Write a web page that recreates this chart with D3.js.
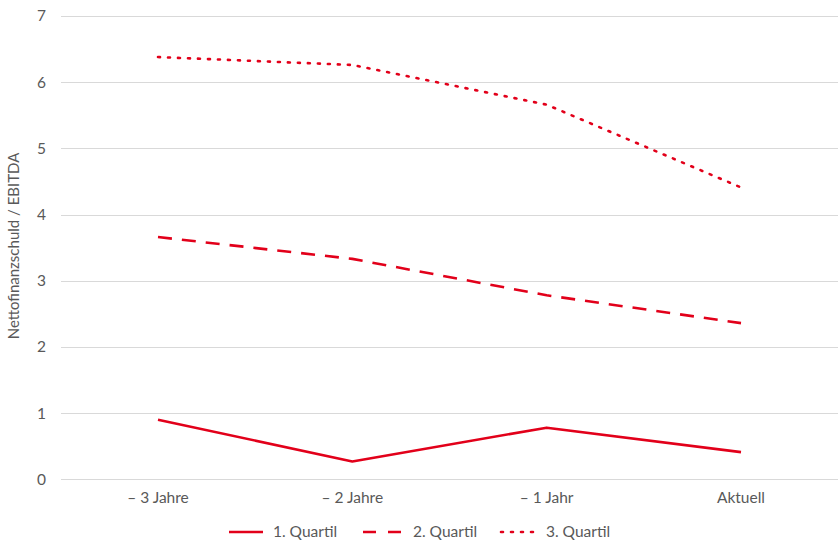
<!DOCTYPE html>
<html><head><meta charset="utf-8">
<script src="https://cdn.jsdelivr.net/npm/d3@7"></script>
<style>body{margin:0;background:#fff}svg{display:block}text{font-family:Lato,"Open Sans",sans-serif;fill:#595959}</style>
</head><body><svg id="c" width="838" height="542"></svg>
<script>
const categories = ["\u2013 3 Jahre", "\u2013 2 Jahre", "\u2013 1 Jahr", "Aktuell"];
const seriesNames = ["1. Quartil", "2. Quartil", "3. Quartil"];
const q1 = [0.90, 0.27, 0.78, 0.41];
const q2 = [3.66, 3.33, 2.78, 2.36];
const q3 = [6.38, 6.26, 5.66, 4.41];
const yTicks = [0, 1, 2, 3, 4, 5, 6, 7];
const yLabel = "Nettofinanzschuld / EBITDA";

const svg = d3.select("#c");
const red = "#E2001A";
const x = d3.scalePoint().domain(categories).range([158, 741]);
const y = d3.scaleLinear().domain([0, 7]).range([479.3, 16]);

svg.append("g").selectAll("line").data(yTicks).join("line")
  .attr("x1", 61).attr("x2", 838)
  .attr("y1", d => Math.round(y(d)) + 0.5).attr("y2", d => Math.round(y(d)) + 0.5)
  .attr("stroke", "#d9d9d9").attr("stroke-width", 1);

svg.append("g").selectAll("text").data(yTicks).join("text")
  .attr("x", 46).attr("y", d => y(d)).attr("dy", "0.35em")
  .attr("text-anchor", "end").attr("font-size", 15.5).text(d => d);

svg.append("g").selectAll("text").data(categories).join("text")
  .attr("x", d => x(d)).attr("y", 503)
  .attr("text-anchor", "middle").attr("font-size", 15.5).text(d => d);

svg.append("text").attr("transform", "translate(19,246) rotate(-90)")
  .attr("text-anchor", "middle").attr("font-size", 15).text(yLabel);

const styles = [
  {data: q1, dash: null, cap: "butt"},
  {data: q2, dash: "14,10", cap: "butt"},
  {data: q3, dash: "2,8", cap: "round"}
];

styles.forEach(s => {
  const line = d3.line().x((d, i) => x(categories[i])).y(d => y(d)).curve(d3.curveLinear);
  svg.append("path").attr("d", line(s.data))
    .attr("fill", "none").attr("stroke", red).attr("stroke-width", 2.6)
    .attr("stroke-dasharray", s.dash).attr("stroke-linecap", s.cap)
    .attr("stroke-linejoin", "round");
});

const legendX = [229, 363, 501];
const legendLen = [34, 40, 35];
const lg = svg.append("g");
styles.forEach((s, i) => {
  lg.append("line").attr("x1", legendX[i]).attr("x2", legendX[i] + legendLen[i])
    .attr("y1", 532).attr("y2", 532)
    .attr("stroke", red).attr("stroke-width", 2.6)
    .attr("stroke-dasharray", i === 1 ? "13,12" : s.dash).attr("stroke-linecap", s.cap);
  lg.append("text").attr("x", legendX[i] + legendLen[i] + 10).attr("y", 532).attr("dy", "0.35em")
    .attr("font-size", 15.5).text(seriesNames[i]);
});
</script></body></html>
